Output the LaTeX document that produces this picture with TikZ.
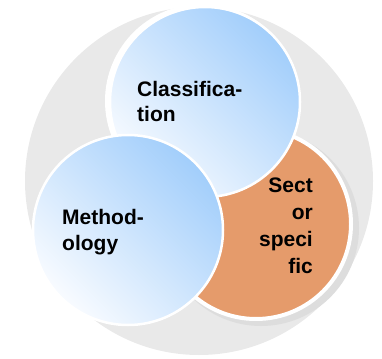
\documentclass[tikz,border=0pt]{standalone}
\usepackage{fontspec}
\setmainfont{Liberation Sans}
\definecolor{ringgray}{HTML}{E9E9E9}
\definecolor{shadowgray}{HTML}{DDDDDD}
\definecolor{sectororange}{HTML}{E59B6B}
\definecolor{bluedark}{HTML}{A2CEFB}
\definecolor{bluelight}{HTML}{F8FBFF}

\begin{document}
\begin{tikzpicture}[x=1pt,y=1pt,
  bubble/.style={circle,minimum size=190pt,inner sep=0pt,draw=white,line width=2.5pt},
  bluebubble/.style={bubble,shading=axis,bottom color=bluelight,top color=bluedark,shading angle=-45},
  word/.style={font=\fontsize{21}{25}\selectfont\bfseries,inner sep=0pt}]
  \useasboundingbox (0,0) rectangle (382,-358);
  \fill[ringgray] (199,-181) circle (174);
  % shadow and ring behind the orange one
  \fill[shadowgray] (261,-228) circle (98);
  \node[bubble,fill=sectororange,line width=4pt] (sector) at (256,-224) {};
  \fill[white] (202,-101) circle (97);
  \node[bluebubble] (class) at (205,-102) {};
  \node[bluebubble] (method) at (128,-230) {};
  % labels (base is the last line)
  \node[word,align=left,anchor=base west] (classlabel) at (137,-122) {Classifica-\\tion};
  \node[word,align=left,anchor=base west,font=\fontsize{21}{26}\selectfont\bfseries] (methodlabel) at (62,-250) {Method-\\ology};
  \node[word,align=right,anchor=base east,font=\fontsize{21}{27}\selectfont\bfseries] (sectorlabel) at (313,-273) {Sect\\or\\speci\\fic};
\end{tikzpicture}
\end{document}
